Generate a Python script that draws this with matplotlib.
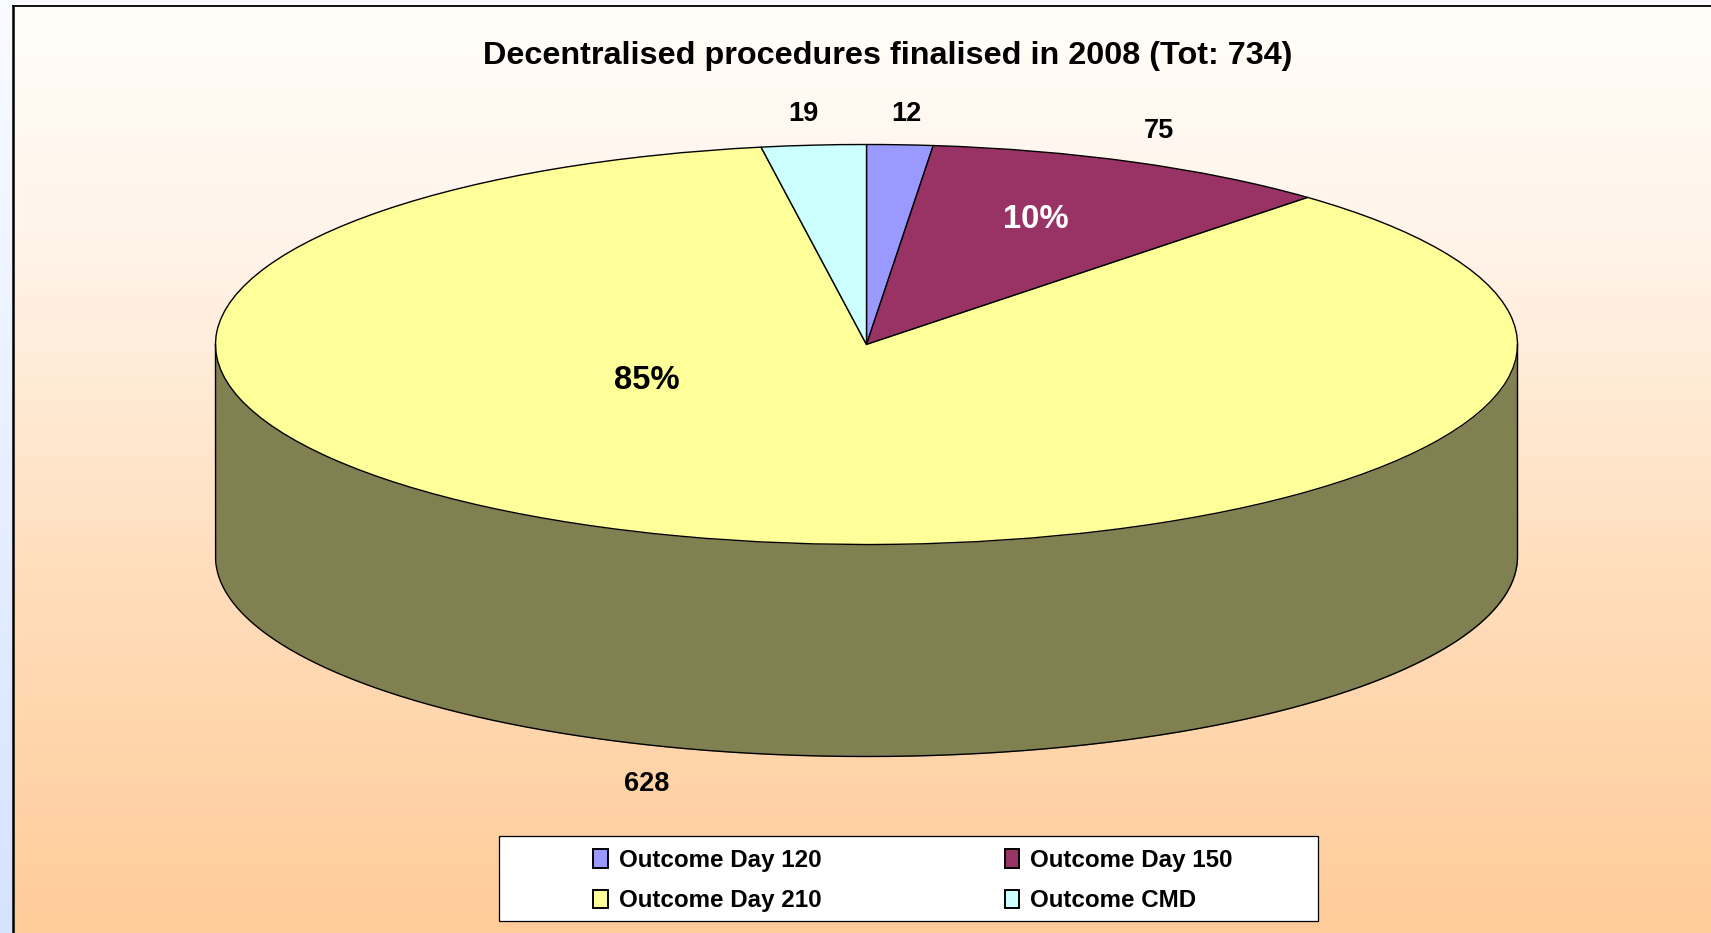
#!/usr/bin/env python3
"""Decentralised procedures pie, drawn flat-tilted like the old Excel 3D pie."""

import numpy as np
import matplotlib
matplotlib.use('Agg')
import matplotlib.pyplot as plt
from matplotlib.colors import LinearSegmentedColormap
from matplotlib.patches import Patch

plt.rcParams['font.family'] = ['Liberation Sans', 'DejaVu Sans']
plt.rcParams['font.weight'] = 'bold'

TITLE = "Decentralised procedures finalised in 2008 (Tot: 734)"
CATEGORIES = ["Outcome Day 120", "Outcome Day 150", "Outcome Day 210", "Outcome CMD"]
VALUES = [12, 75, 628, 19]
PERCENT_LABELS = {"Outcome Day 150": "10%", "Outcome Day 210": "85%"}
COLORS = ["#9999FF", "#993366", "#FFFF99", "#CCFFFF"]
SIDE_COLOR = "#808050"

W, H = 1711, 933
CX, CY, RX, RY, DEPTH = 866.5, 344.5, 651, 200, 212

# label anchors in image pixels
VALUE_POS = [(906, 114), (1159, 131), (647, 784), (803, 114)]
PERCENT_POS = {"Outcome Day 150": (1036, 219), "Outcome Day 210": (647, 380)}

fig = plt.figure(figsize=(W / 100, H / 100), dpi=100)

# ── Backgrounds ────────────────────────────────────────────────────
bg = fig.add_axes([0, 0, 1, 1], zorder=0)
bg.axis('off')
cmap_outer = LinearSegmentedColormap.from_list('outer', ['#F9FBFF', '#D6E3FF'])
bg.imshow(np.linspace(0, 1, 256)[:, None], cmap=cmap_outer, aspect='auto')

panel = fig.add_axes([12.5 / W, 0, 1 - 12.5 / W, 1 - 5.5 / H], zorder=1)
cmap_panel = LinearSegmentedColormap.from_list(
    'panel', [(0, '#FFFDF8'), (0.25, '#FFF4EA'), (0.62, '#FFDDBB'), (1, '#FFCC99')])
panel.imshow(np.linspace(0, 1, 256)[:, None], cmap=cmap_panel, aspect='auto')
panel.set_xticks([])
panel.set_yticks([])
panel.spines['right'].set_visible(False)
panel.spines['bottom'].set_visible(False)
panel.spines['left'].set_linewidth(1.8)
panel.spines['top'].set_linewidth(1.3)

# ── Pie ────────────────────────────────────────────────────────────
ax = fig.add_axes([0, 0, 1, 1], zorder=2)
ax.patch.set_visible(False)

# side wall below the front half of the rim
theta = np.linspace(-np.pi / 2, np.pi / 2, 721)
t = np.sin(theta)
lower = -np.cos(theta)
drop = DEPTH / RY
ax.fill_between(t, lower, lower - drop, color=SIDE_COLOR, lw=0)
ax.plot(np.r_[-1, t, 1], np.r_[0, lower - drop, 0], color='black', lw=1.0)

wedges, _ = ax.pie(VALUES, colors=COLORS, startangle=90, counterclock=False,
                   wedgeprops=dict(edgecolor='black', linewidth=1.0))

ax.set_aspect('auto')
ax.set_xlim((0 - CX) / RX, (W - CX) / RX)
ax.set_ylim((CY - H) / RY, CY / RY)
ax.axis('off')


def to_fig(px, py):
    return px / W, 1 - py / H


fig.text(*to_fig(888, 56), TITLE, ha='center', va='center', fontsize=23.3, zorder=5)

for val, (px, py) in zip(VALUES, VALUE_POS):
    fig.text(*to_fig(px, py), str(val), ha='center', va='center', fontsize=19.5, zorder=5)

for cat, txt in PERCENT_LABELS.items():
    px, py = PERCENT_POS[cat]
    col = 'white' if cat == "Outcome Day 150" else 'black'
    fig.text(*to_fig(px, py), txt, ha='center', va='center', fontsize=23.6, color=col, zorder=5)

# ── Legend: row-wise order, so swap for matplotlib's column fill ───
handles = [Patch(facecolor=c, edgecolor='black', linewidth=1.4) for c in COLORS]
order = [0, 2, 1, 3]
box = (499 / W, 1 - 921 / H, 819 / W, 85 / H)
leg_box = (503.5 / W, 1 - 923 / H, 819 / W, 85 / H)
leg = fig.legend([handles[i] for i in order], [CATEGORIES[i] for i in order],
                 ncol=2, loc='center', bbox_to_anchor=leg_box,
                 fontsize=17.4, frameon=False, handlelength=0.6, handleheight=0.8,
                 handletextpad=0.45, columnspacing=7.6, labelspacing=0.72,
                 borderpad=0)
leg.set_zorder(6)
fig.patches.append(plt.Rectangle(box[:2], box[2], box[3], transform=fig.transFigure,
                                 facecolor='white', edgecolor='black', linewidth=0.9,
                                 zorder=4))

fig.savefig('out.png', dpi=100)
